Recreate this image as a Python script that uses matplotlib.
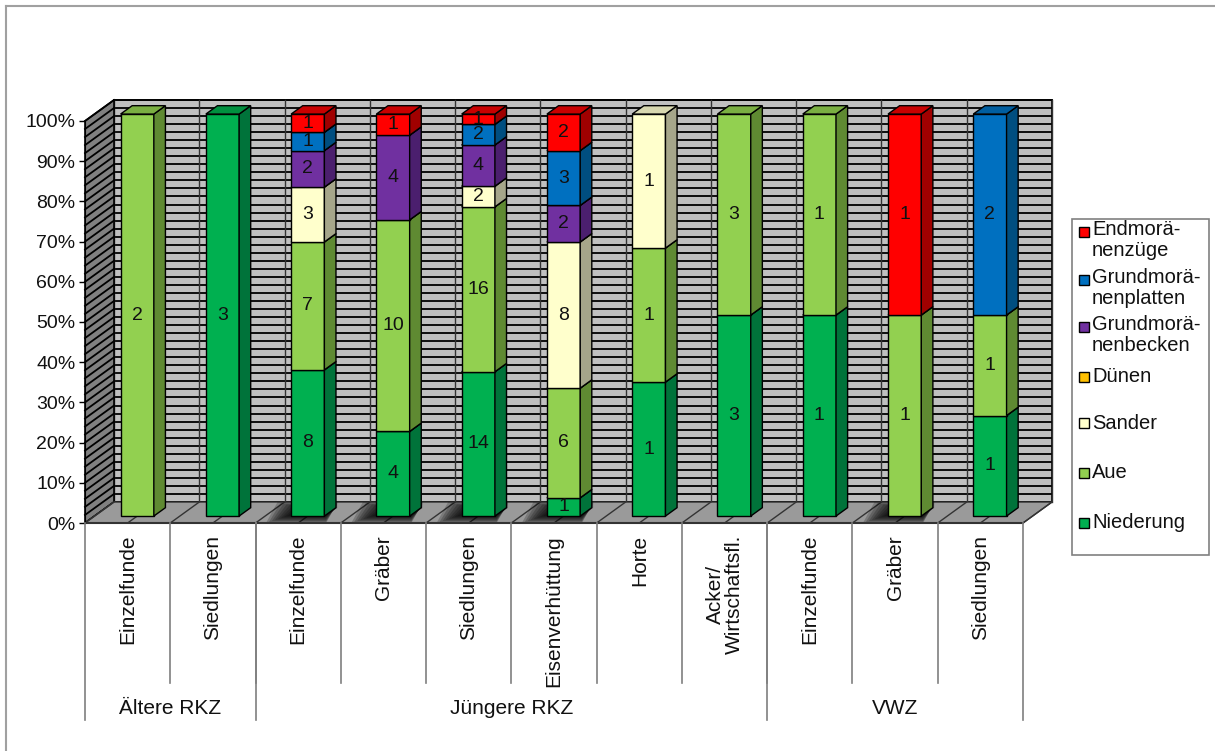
import matplotlib.pyplot as plt
import matplotlib.patches as patches
import matplotlib.transforms as mtransforms
import numpy as np

plt.rcParams['font.family'] = ['Liberation Sans', 'DejaVu Sans']

# Zeitstufen und Fundgattungen
groups = ['Ältere RKZ', 'Jüngere RKZ', 'VWZ']
group_sizes = [2, 6, 3]
categories = ['Einzelfunde', 'Siedlungen',
              'Einzelfunde', 'Gräber', 'Siedlungen', 'Eisenverhüttung', 'Horte',
              'Acker/\nWirtschaftsfl.',
              'Einzelfunde', 'Gräber', 'Siedlungen']

# Anzahl der Fundplätze je Naturraum (von unten nach oben gestapelt)
niederung = [0, 3, 8, 4, 14, 1, 1, 3, 1, 0, 1]
aue = [2, 0, 7, 10, 16, 6, 1, 3, 1, 1, 1]
sander = [0, 0, 3, 0, 2, 8, 1, 0, 0, 0, 0]
duenen = [0, 0, 0, 0, 0, 0, 0, 0, 0, 0, 0]
gm_becken = [0, 0, 2, 4, 4, 2, 0, 0, 0, 0, 0]
gm_platten = [0, 0, 1, 0, 2, 3, 0, 0, 0, 0, 2]
endmoraenen = [0, 0, 1, 1, 1, 2, 0, 0, 0, 1, 0]

series = [
    ('Niederung', niederung),
    ('Aue', aue),
    ('Sander', sander),
    ('Dünen', duenen),
    ('Grundmorä-\nnenbecken', gm_becken),
    ('Grundmorä-\nnenplatten', gm_platten),
    ('Endmorä-\nnenzüge', endmoraenen),
]

# Farben: Vorderseite, Oberseite, rechte Seite
colors = {
    'Niederung': ('#00B050', '#00903F', '#00733A'),
    'Aue': ('#92D050', '#7AAF42', '#5F8A32'),
    'Sander': ('#FFFFCC', '#D8D8B0', '#A6A68A'),
    'Dünen': ('#FFC000', '#D9A300', '#A67C00'),
    'Grundmorä-\nnenbecken': ('#7030A0', '#5C2785', '#4B1F6E'),
    'Grundmorä-\nnenplatten': ('#0070C0', '#005EA0', '#004E80'),
    'Endmorä-\nnenzüge': ('#FF0000', '#C80000', '#A00000'),
}

W, H = 1215, 751
fig = plt.figure(figsize=(W / 100, H / 100), dpi=100)


def fx(px):
    return px / W


def fy(py):
    return 1 - py / H


# Rahmen des Diagrammbereichs (oben und links)
fig.add_artist(plt.Line2D([fx(6), fx(W)], [fy(6), fy(6)], color='#a0a0a0', lw=1.5))
fig.add_artist(plt.Line2D([fx(6), fx(6)], [fy(6), fy(H)], color='#a0a0a0', lw=1.5))

x0, x1, y0, y1 = 85, 1023, 121, 523
ax = fig.add_axes([fx(x0), fy(y1), fx(x1) - fx(x0), (y1 - y0) / H])
n = len(categories)
ax.set_xlim(0, n)
ax.set_ylim(0, 100)
ax.patch.set_visible(False)

# Tiefenvektor der 3D-Darstellung in Datenkoordinaten
dx, dy = 0.34, 5.22
f0, f1 = 0.33, 0.73
bw = 0.39

# Rückwand
wall = patches.Polygon([(dx, dy), (n + dx, dy), (n + dx, 100 + dy), (dx, 100 + dy)],
                       closed=True, facecolor='#c0c0c0', edgecolor='black', lw=1.2,
                       zorder=0.5, clip_on=False)
ax.add_patch(wall)
for lv in np.arange(0, 101, 2):
    ax.plot([dx, n + dx], [lv + dy, lv + dy], color='black', lw=1.3, zorder=0.6, clip_on=False)
    ax.plot([0, dx], [lv, lv + dy], color='black', lw=1.3, zorder=0.66, clip_on=False)
for i in range(n + 1):
    ax.plot([i + dx, i + dx], [dy, 100 + dy], color='#333333', lw=1.0, zorder=0.6, clip_on=False)

# Seitenwand links
side = patches.Polygon([(0, 0), (dx, dy), (dx, 100 + dy), (0, 100)], closed=True,
                       facecolor='#808080', edgecolor='black', lw=1.2, zorder=0.65,
                       clip_on=False)
ax.add_patch(side)

# Boden
floor_pts = [(0, 0), (n, 0), (n + dx, dy), (dx, dy)]
floor = patches.Polygon(floor_pts, closed=True, facecolor='#9a9a9a', edgecolor='#333333',
                        lw=1.0, zorder=0.7, clip_on=False)
ax.add_patch(floor)
for xv in np.arange(0, n + 0.01, 0.5):
    ax.plot([xv, xv + dx], [0, dy], color='#333333', lw=1.0, zorder=0.72, clip_on=False)

totals = np.sum([v for _, v in series], axis=0)
centers = np.arange(n) + 0.5

# Schatten der Säulen mit Endmoränenzügen auf dem Boden
for i in range(n):
    if endmoraenen[i] == 0:
        continue
    xl = centers[i] - bw / 2
    xr = centers[i] + bw / 2
    for k in range(8):
        grow = 0.035 * k
        pts = [(xl - 0.05 - grow + f0 * dx, f0 * dy - 0.25 * k),
               (xr + 0.02 + f0 * dx, f0 * dy - 0.25 * k),
               (xr + 0.02 + f1 * dx, f1 * dy + 0.2 * k),
               (xl - 0.05 - grow + f1 * dx, f1 * dy + 0.2 * k)]
        sh = patches.Polygon(pts, closed=True, facecolor='black', edgecolor='none',
                             alpha=0.2, zorder=0.8, clip_on=False)
        ax.add_patch(sh)
        sh.set_clip_path(floor)

# Gestapelte 3D-Säulen
bottom = np.zeros(n)
for name, vals in series:
    vals = np.array(vals, dtype=float)
    pct = vals / totals * 100
    front, top, right = colors[name]
    for i in range(n):
        if vals[i] == 0:
            continue
        b = bottom[i]
        t = b + pct[i]
        xl = centers[i] - bw / 2
        xr = centers[i] + bw / 2
        ax.bar(centers[i] + f0 * dx, pct[i], bottom=b + f0 * dy, width=bw,
               color=front, edgecolor='black', lw=1.0, zorder=3, clip_on=False)
        sidep = [(xr + f0 * dx, b + f0 * dy), (xr + f1 * dx, b + f1 * dy),
                 (xr + f1 * dx, t + f1 * dy), (xr + f0 * dx, t + f0 * dy)]
        ax.add_patch(patches.Polygon(sidep, closed=True, facecolor=right, edgecolor='black',
                                     lw=1.0, zorder=3, clip_on=False))
        topp = [(xl + f0 * dx, t + f0 * dy), (xr + f0 * dx, t + f0 * dy),
                (xr + f1 * dx, t + f1 * dy), (xl + f1 * dx, t + f1 * dy)]
        ax.add_patch(patches.Polygon(topp, closed=True, facecolor=top, edgecolor='black',
                                     lw=1.0, zorder=3, clip_on=False))
        ax.text(centers[i] + f0 * dx, (b + t) / 2 + f0 * dy, str(int(vals[i])),
                ha='center', va='center', fontsize=14, color='#111111', zorder=4)
    bottom += pct

# Achsen
for s in ['top', 'right', 'bottom']:
    ax.spines[s].set_visible(False)
ax.spines['left'].set_color('black')
ax.spines['left'].set_zorder(1)
ax.set_yticks(np.arange(0, 101, 10))
ax.set_yticklabels([f'{v}%' for v in range(0, 101, 10)])
ax.tick_params(axis='y', length=4, width=1, pad=3, labelsize=14, labelcolor='#111111')
ax.set_xticks([])
ax.plot([0, n], [0, 0], color='#333333', lw=1.5, zorder=0.9, clip_on=False)

# Beschriftungstabelle unter der Achse
trans = mtransforms.blended_transform_factory(ax.transData, ax.transAxes)
ph = y1 - y0


def ay(py):
    return (y1 - py) / ph


for i, lab in enumerate(categories):
    ax.text(centers[i], ay(535), lab, transform=trans, rotation=90, ha='center', va='top',
            fontsize=15, color='#111111', linespacing=1.0)
for i in range(1, n):
    ax.plot([i, i], [ay(523), ay(683)], transform=trans, color='#7f7f7f', lw=1.2,
            clip_on=False)
edges = np.concatenate([[0], np.cumsum(group_sizes)])
for e in edges:
    ax.plot([e, e], [ay(523), ay(720)], transform=trans, color='#7f7f7f', lw=1.2,
            clip_on=False)
for g, a, b in zip(groups, edges[:-1], edges[1:]):
    ax.text((a + b) / 2, ay(708), g, transform=trans, ha='center', va='center',
            fontsize=15, color='#111111')

# Legende
fig.add_artist(patches.Rectangle((fx(1072), fy(555)), fx(1209) - fx(1072), fy(219) - fy(555),
                                 facecolor='white', edgecolor='#808080', lw=1.2))
legend_y = [232, 280, 327, 377, 423, 473, 523]
for (name, _), ly in zip(series[::-1], legend_y):
    fig.add_artist(patches.Rectangle((fx(1079), fy(ly + 5)), fx(10), 10 / H,
                                     facecolor=colors[name][0], edgecolor='black', lw=1.0))
    if '\n' in name:
        fig.text(fx(1092), fy(ly - 12), name, ha='left', va='top', fontsize=14.5,
                 color='#111111', linespacing=1.15)
    else:
        fig.text(fx(1092), fy(ly), name, ha='left', va='center', fontsize=14.5,
                 color='#111111')

fig.savefig('out.png', dpi=100)
